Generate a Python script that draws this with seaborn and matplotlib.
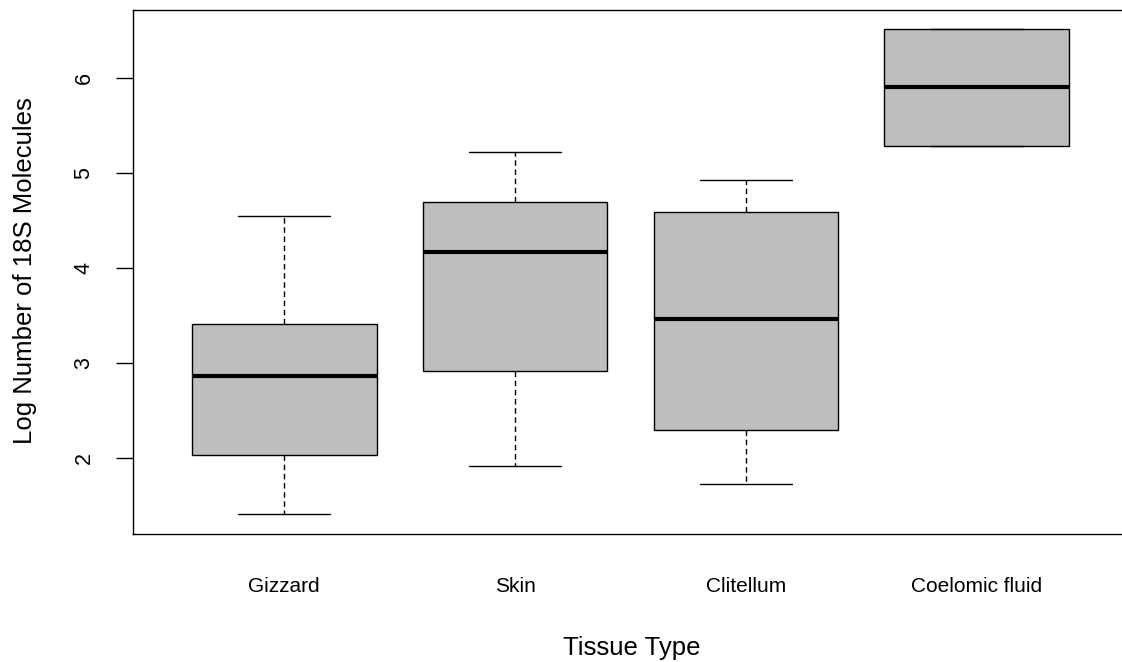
import numpy as np
import pandas as pd
import matplotlib
matplotlib.use("Agg")
import matplotlib.pyplot as plt
import seaborn as sns

# Five-number summaries (min, Q1, median, Q3, max)
categories = ["Gizzard", "Skin", "Clitellum", "Coelomic fluid"]
gizzard = [1.41, 2.03, 2.86, 3.41, 4.55]
skin = [1.91, 2.91, 4.17, 4.70, 5.22]
clitellum = [1.72, 2.29, 3.46, 4.59, 4.93]
coelomic_fluid = [5.29, 5.29, 5.91, 6.52, 6.52]
y_ticks = [2, 3, 4, 5, 6]

series = [gizzard, skin, clitellum, coelomic_fluid]
df = pd.DataFrame({
    "Tissue": [c for c, s in zip(categories, series) for _ in s],
    "Value": [v for s in series for v in s],
})

sns.set_style("white")
plt.rcParams["font.family"] = ["Liberation Sans", "DejaVu Sans"]

W, H = 1122, 662
fig = plt.figure(figsize=(W / 100, H / 100), dpi=100)
left_px, right_px, top_px, bottom_px = 133.3, 1129.0, 10.0, 534.0
ax = fig.add_axes([left_px / W, 1 - bottom_px / H,
                   (right_px - left_px) / W, (bottom_px - top_px) / H])

sns.boxplot(data=df, x="Tissue", y="Value", order=categories, ax=ax,
            color="#BEBEBE", saturation=1, width=0.8, whis=1.5,
            showfliers=False, linecolor="black", linewidth=1.0,
            medianprops={"color": "black", "linewidth": 3.0},
            whiskerprops={"linestyle": (0, (4, 2.6)), "linewidth": 1.0},
            capprops={"linewidth": 1.0})

ax.set_xlim(-0.654, 3.66)
ax.set_ylim(1.196, 6.72)
ax.set_yticks(y_ticks)
ax.set_yticklabels([str(t) for t in y_ticks], rotation=90, va="center")
ax.tick_params(axis="y", direction="out", length=12, width=1.0,
               labelsize=15.5, pad=16, left=True, colors="black")
ax.tick_params(axis="x", length=0, labelsize=15, pad=31, colors="black")
for sp in ax.spines.values():
    sp.set_visible(True)
    sp.set_color("black")
    sp.set_linewidth(1.0)
ax.set_xlabel("")
ax.set_ylabel("")

fig.text(25 / W, 1 - 270.5 / H, "Log Number of 18S Molecules", rotation=90,
         ha="center", va="center", fontsize=18.5, color="black")
fig.text(632 / W, 1 - 648 / H, "Tissue Type", ha="center", va="center",
         fontsize=18.5, color="black")

fig.savefig("out.png", dpi=100, facecolor="white")
